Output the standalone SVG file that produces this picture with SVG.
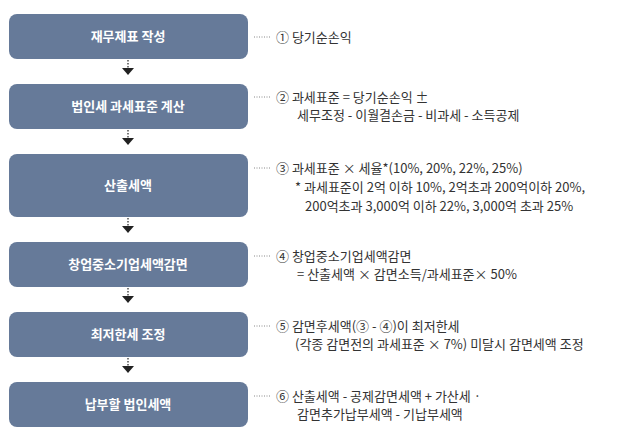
<svg xmlns="http://www.w3.org/2000/svg" width="629" height="442" viewBox="0 0 629 442">
<style>
.box{fill:#667a99}
.bt{font-family:"Noto Sans CJK KR","Noto Sans",sans-serif;font-size:13px;font-weight:bold;fill:#fff;text-anchor:middle}
.t{font-family:"Noto Sans CJK KR","Noto Sans",sans-serif;font-size:13px;fill:#333}
.lead{stroke:#888;stroke-width:1;stroke-dasharray:1 1.5}
.ad{stroke:#222;stroke-width:1.2;stroke-dasharray:1.5 1.5}
.ah{fill:#222}
</style>
<g id="n1"><rect class="box" x="9" y="14" width="239" height="45" rx="8"/><text class="bt" x="128" y="41">재무제표 작성</text></g>
<g id="n2"><rect class="box" x="9" y="84" width="239" height="45" rx="8"/><text class="bt" x="128" y="111">법인세 과세표준 계산</text></g>
<g id="n3"><rect class="box" x="9" y="154" width="239" height="63" rx="8"/><text class="bt" x="128" y="190">산출세액</text></g>
<g id="n4"><rect class="box" x="9" y="242" width="239" height="45" rx="8"/><text class="bt" x="128" y="269">창업중소기업세액감면</text></g>
<g id="n5"><rect class="box" x="9" y="312" width="239" height="45" rx="8"/><text class="bt" x="128" y="339">최저한세 조정</text></g>
<g id="n6"><rect class="box" x="9" y="382" width="239" height="45" rx="8"/><text class="bt" x="128" y="409">납부할 법인세액</text></g>
<g id="connectors">
<line class="ad" x1="128" y1="60" x2="128" y2="68"/><polygon class="ah" points="122,68 134,68 128,75"/>
<line class="ad" x1="128" y1="130" x2="128" y2="138"/><polygon class="ah" points="122,138 134,138 128,145"/>
<line class="ad" x1="128" y1="218" x2="128" y2="226"/><polygon class="ah" points="122,226 134,226 128,233"/>
<line class="ad" x1="128" y1="288" x2="128" y2="296"/><polygon class="ah" points="122,296 134,296 128,303"/>
<line class="ad" x1="128" y1="358" x2="128" y2="366"/><polygon class="ah" points="122,366 134,366 128,373"/>
<line class="lead" x1="254" y1="37" x2="270" y2="37"/>
<line class="lead" x1="254" y1="97" x2="270" y2="97"/>
<line class="lead" x1="254" y1="168" x2="270" y2="168"/>
<line class="lead" x1="254" y1="256" x2="270" y2="256"/>
<line class="lead" x1="254" y1="326" x2="270" y2="326"/>
<line class="lead" x1="254" y1="396" x2="270" y2="396"/>
</g>
<g id="labels">
<text class="t" x="276" y="42">① 당기순손익</text>
<text class="t" x="276" y="102">② 과세표준 = 당기순손익 ±</text>
<text class="t" x="297" y="120">세무조정 - 이월결손금 - 비과세 - 소득공제</text>
<text class="t" x="276" y="173">③ 과세표준 × 세율*(10%, 20%, 22%, 25%)</text>
<text class="t" x="295" y="192">* 과세표준이 2억 이하 10%, 2억초과 200억이하 20%,</text>
<text class="t" x="305" y="211">200억초과 3,000억 이하 22%, 3,000억 초과 25%</text>
<text class="t" x="276" y="261">④ 창업중소기업세액감면</text>
<text class="t" x="297" y="279">= 산출세액 × 감면소득/과세표준× 50%</text>
<text class="t" x="276" y="331">⑤ 감면후세액(③ - ④)이 최저한세</text>
<text class="t" x="295" y="349">(각종 감면전의 과세표준 × 7%) 미달시 감면세액 조정</text>
<text class="t" x="276" y="401">⑥ 산출세액 - 공제감면세액 + 가산세 ·</text>
<text class="t" x="297" y="419">감면추가납부세액 - 기납부세액</text>
</g>
</svg>
